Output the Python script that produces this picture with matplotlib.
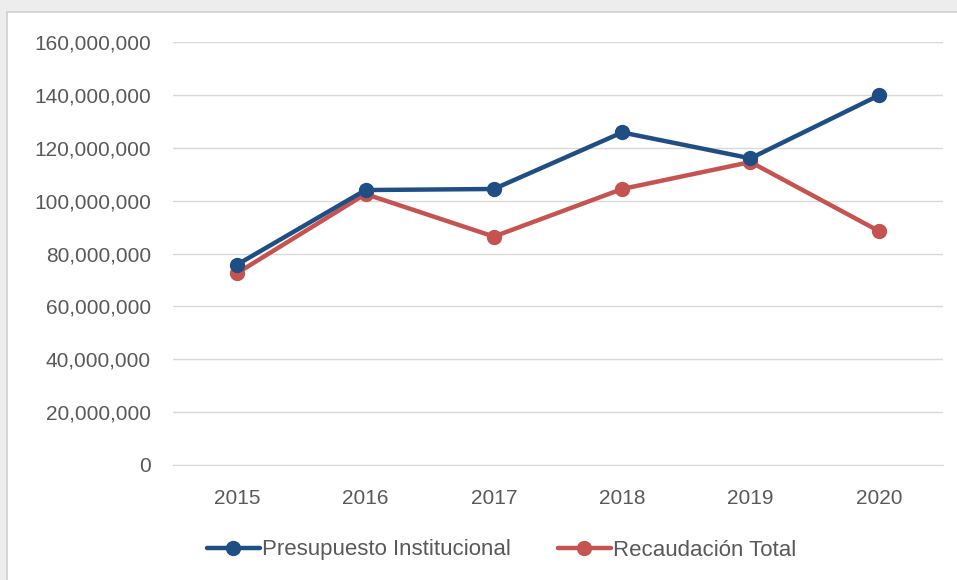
import matplotlib.pyplot as plt
from matplotlib.patches import Rectangle
from matplotlib.ticker import FuncFormatter

years = ['2015', '2016', '2017', '2018', '2019', '2020']
presupuesto = [75.8e6, 104.0e6, 104.4e6, 125.8e6, 116.0e6, 139.8e6]
recaudacion = [72.6e6, 102.5e6, 86.4e6, 104.4e6, 114.6e6, 88.5e6]

plt.rcParams['font.family'] = ['Liberation Sans', 'DejaVu Sans']

fig = plt.figure(figsize=(9.57, 5.8), dpi=100)
fig.patch.set_facecolor('#ededed')

# white chart panel with thin border
panel = Rectangle((7 / 957, -0.01), 1, 1 - 12 / 580 + 0.01, transform=fig.transFigure,
                  facecolor='white', edgecolor='#d0d0d0', linewidth=1.2, zorder=-5)
fig.add_artist(panel)

ax = fig.add_axes([173 / 957, 1 - 465 / 580, (943 - 173) / 957, (465 - 42) / 580])
ax.set_facecolor('none')
ax.set_zorder(2)

x = range(len(years))
ax.plot(x, presupuesto, color='#1f4e85', linewidth=3.2, marker='o', markersize=10,
        label='Presupuesto Institucional', zorder=3, solid_capstyle='round')
ax.plot(x, recaudacion, color='#c55350', linewidth=3.2, marker='o', markersize=10,
        label='Recaudación Total', zorder=2, solid_capstyle='round')

ax.set_xlim(-0.5, 5.5)
ax.set_ylim(0, 160e6)
ax.set_yticks([i * 20e6 for i in range(9)])
ax.yaxis.set_major_formatter(FuncFormatter(lambda v, p: f'{int(v):,}'))
ax.set_xticks(list(x))
ax.set_xticklabels(years)

ax.grid(axis='y', color='#d9d9d9', linewidth=1)
ax.set_axisbelow(True)
for s in ['top', 'right', 'left']:
    ax.spines[s].set_visible(False)
ax.spines['bottom'].set_color('#d9d9d9')
ax.tick_params(axis='both', length=0, labelsize=15, colors='#595959')
ax.tick_params(axis='y', pad=16)
ax.tick_params(axis='x', pad=17)

leg = fig.legend(loc='center', bbox_to_anchor=(0.524, 1 - 550 / 580), ncol=2, frameon=False,
                 fontsize=16, handlelength=2.4, columnspacing=2.1, handletextpad=0.1)
for t in leg.get_texts():
    t.set_color('#595959')

fig.savefig('out.png', dpi=100, facecolor=fig.get_facecolor())
